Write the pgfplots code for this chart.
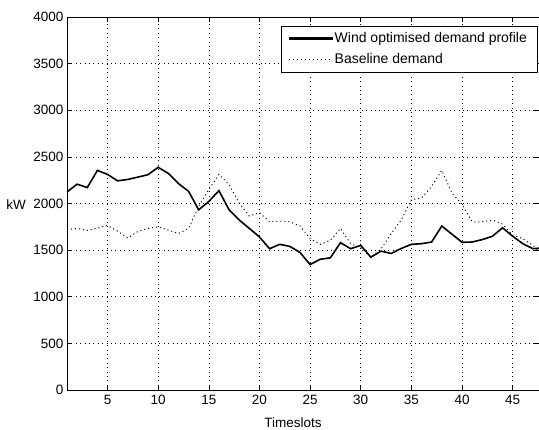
\documentclass[border=0pt]{standalone}
\usepackage{fontspec}
\setmainfont{Liberation Sans}
\usepackage{pgfplots}
\pgfplotsset{compat=1.18}
\usepackage{pgfplotstable}

% wind optimised demand profile (solid)
\pgfplotstableread{
t kw
1 2124
2 2207
3 2171
4 2355
5 2312
6 2243
7 2258
8 2283
9 2309
10 2388
11 2323
12 2214
13 2131
14 1932
15 2022
16 2138
17 1932
18 1823
19 1733
20 1641
21 1515
22 1562
23 1540
24 1475
25 1345
26 1402
27 1417
28 1580
29 1515
30 1551
31 1424
32 1489
33 1464
34 1518
35 1562
36 1569
37 1587
38 1758
39 1671
40 1584
41 1587
42 1613
43 1649
44 1739
45 1649
46 1569
47 1515
48 1525
}\windtab

% baseline demand (dotted)
\pgfplotstableread{
t kw
1 1721
2 1732
3 1710
4 1736
5 1765
6 1703
7 1630
8 1700
9 1733
10 1750
11 1714
12 1678
13 1733
14 1967
15 2149
16 2312
17 2203
18 2004
19 1866
20 1902
21 1804
22 1812
23 1804
24 1760
25 1624
26 1562
27 1605
28 1733
29 1569
30 1526
31 1424
32 1510
33 1678
34 1823
35 2040
36 2058
37 2185
38 2355
39 2113
40 1990
41 1804
42 1804
43 1823
44 1780
45 1660
46 1624
47 1551
48 1445
}\basetab

\begin{document}
\begin{tikzpicture}
\begin{axis}[
  name=ax,
  scale only axis,
  width=472pt, height=373pt,
  xmin=1, xmax=47.6,
  ymin=0, ymax=4000,
  xtick={5,10,...,45},
  ytick={0,500,...,4000},
  tick align=inside,
  major tick length=5pt,
  tick style={black, line width=0.5pt},
  axis line style={black, line width=0.7pt},
  grid=major,
  major grid style={black, line width=0.5pt, dash pattern=on 0.8pt off 3.6pt},
  font=\fontsize{13.5}{15}\selectfont,
  /pgf/number format/assume math mode=true,
  /pgf/number format/1000 sep={},
  xticklabel style={yshift=-2pt},
  xlabel={Timeslots},
  xlabel style={at={(axis description cs:0.479,0)}, anchor=center, yshift=-33pt},
  ylabel={kW},
  ylabel style={at={(axis description cs:-0.108,0.496)}, anchor=center, rotate=-90},
  legend cell align=left,
  legend style={at={(rel axis cs:0.996,0.977)}, anchor=north east,
    draw=black, fill=white, inner xsep=8pt, inner ysep=5pt,
    row sep=5pt, font=\fontsize{14}{16}\selectfont},
]
\addplot[black, line width=1.6pt, forget plot] table[x=t, y=kw] {\windtab};
\addplot[black, line width=1pt, dash pattern=on 1pt off 3pt, forget plot] table[x=t, y=kw] {\basetab};
\addlegendimage{legend image code/.code={\fill[black] (0pt,-0.9pt) rectangle (43pt,0.9pt);}}
\addlegendentry{Wind optimised demand profile}
\addlegendimage{legend image code/.code={\draw[black, line width=1pt, dash pattern=on 1pt off 3pt] (0pt,0pt) -- (43pt,0pt);}}
\addlegendentry{Baseline demand}
\end{axis}
\pgfresetboundingbox
\path ([xshift=-67pt,yshift=-40pt]ax.south west) rectangle ([yshift=17pt]ax.north east);
\end{tikzpicture}
\end{document}
